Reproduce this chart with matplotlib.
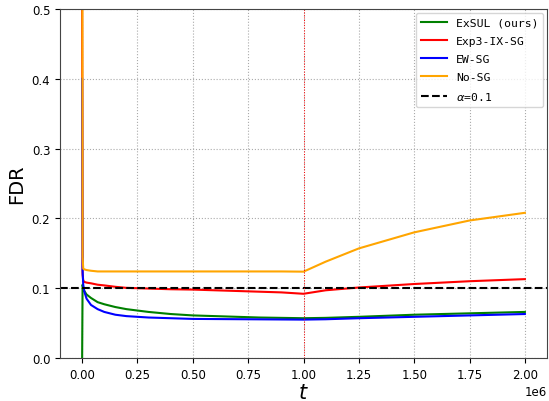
import matplotlib
matplotlib.use("Agg")
import matplotlib.pyplot as plt

t = [0, 2e3, 5e3, 1e4, 2e4, 4e4, 7e4, 1e5, 1.5e5, 2e5, 3e5, 4e5, 5e5, 6e5, 7e5,
     8e5, 9e5, 1e6, 1.1e6, 1.25e6, 1.5e6, 1.75e6, 2e6]

exsul = [0.0, 0.105, 0.100, 0.096, 0.091, 0.086, 0.080, 0.077, 0.073, 0.070, 0.066,
         0.063, 0.061, 0.060, 0.059, 0.058, 0.0575, 0.057, 0.0575, 0.059, 0.062, 0.064, 0.066]
exp3 = [0.5, 0.120, 0.111, 0.109, 0.108, 0.107, 0.105, 0.104, 0.102, 0.1005, 0.0995,
        0.0985, 0.098, 0.097, 0.096, 0.095, 0.094, 0.092, 0.097, 0.101, 0.106, 0.110, 0.113]
ew = [0.40, 0.125, 0.105, 0.095, 0.085, 0.076, 0.070, 0.066, 0.062, 0.060, 0.058,
      0.057, 0.056, 0.0558, 0.0556, 0.0554, 0.0552, 0.055, 0.0555, 0.057, 0.059, 0.061, 0.063]
nosg = [1.0, 0.145, 0.128, 0.127, 0.126, 0.125, 0.124, 0.124, 0.124, 0.124, 0.124,
        0.124, 0.124, 0.124, 0.124, 0.124, 0.124, 0.1237, 0.138, 0.157, 0.180, 0.197, 0.208]

alpha_level = 0.1
switch_t = 1e6

plt.rcParams['xtick.labelsize'] = 8.5
plt.rcParams['ytick.labelsize'] = 8.5

fig = plt.figure(figsize=(5.49, 4.02), dpi=100)
ax = fig.add_axes([60/549, 43/402, 487/549, 349/402])

mono = {'family': 'DejaVu Sans Mono', 'size': 8.2}
ax.plot(t, exsul, color='green', lw=1.5, label='ExSUL (ours)')
ax.plot(t, exp3, color='red', lw=1.5, label='Exp3-IX-SG')
ax.plot(t, ew, color='blue', lw=1.5, label='EW-SG')
ax.plot(t, nosg, color='orange', lw=1.5, label='No-SG')
ax.axhline(alpha_level, color='black', ls='--', lw=1.5, label=r'$\alpha$=0.1')
ax.axvline(switch_t, color='red', ls=':', lw=0.7)

ax.set_xlim(-0.1e6, 2.1e6)
ax.set_ylim(0, 0.5)
ax.grid(True, ls=':', color='#aaaaaa', lw=0.8)
ax.set_xlabel(r'$t$', fontsize=15, labelpad=1)
ax.set_ylabel('FDR', fontsize=14)
ax.xaxis.get_offset_text().set_fontsize(8.5)
for s in ax.spines.values():
    s.set_color('#444444')
leg = ax.legend(loc='upper right', prop=mono, handlelength=2.3, labelspacing=0.72,
                borderaxespad=0.35)

fig.savefig('out.png', dpi=100)
